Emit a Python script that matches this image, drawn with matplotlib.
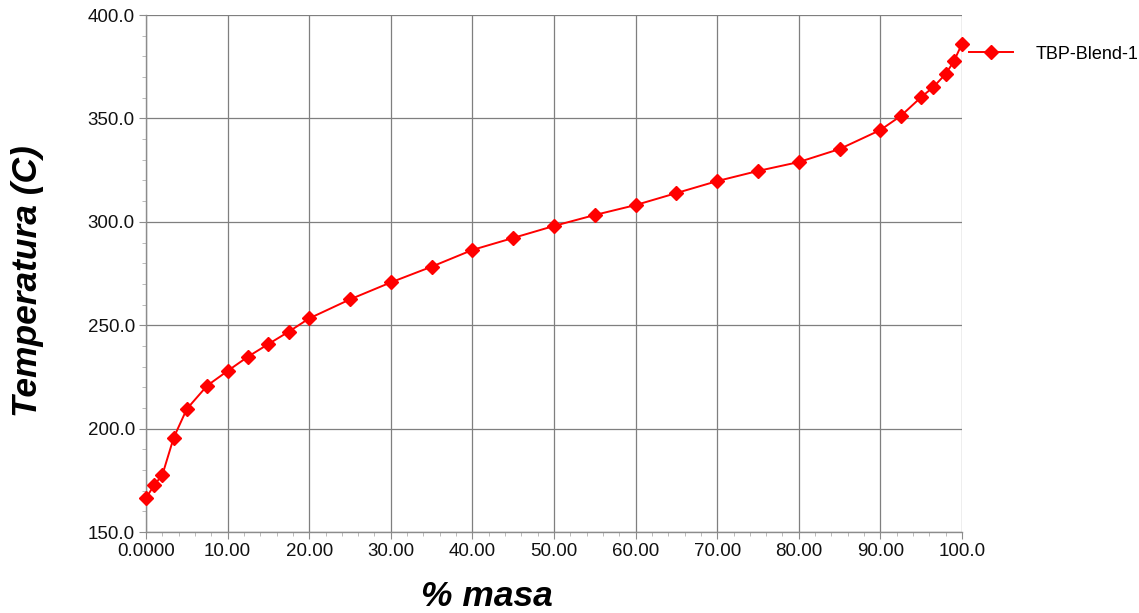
import numpy as np
from matplotlib import pyplot as plt
from matplotlib.ticker import MultipleLocator, FixedLocator

# % mass distilled vs temperature (TBP curve)
masa = [0.0, 1.0, 2.0, 3.4, 5.0, 7.5, 10.0, 12.5, 15.0, 17.5, 20.0, 25.0, 30.0,
        35.0, 40.0, 45.0, 50.0, 55.0, 60.0, 65.0, 70.0, 75.0, 80.0, 85.0, 90.0,
        92.5, 95.0, 96.5, 98.0, 99.0, 100.0]
temperatura = [166.4, 172.7, 177.6, 195.7, 209.5, 220.8, 227.9, 234.8, 240.9,
               246.9, 253.3, 262.5, 270.7, 278.3, 286.4, 292.2, 298.0, 303.3,
               308.1, 313.9, 319.7, 324.6, 328.9, 335.2, 344.4, 351.2, 360.3,
               365.2, 371.5, 377.6, 386.1]
serie = 'TBP-Blend-1'

x_ticks = [0, 10, 20, 30, 40, 50, 60, 70, 80, 90, 100]
x_labels = ['0.0000', '10.00', '20.00', '30.00', '40.00', '50.00', '60.00',
            '70.00', '80.00', '90.00', '100.0']
y_ticks = [150, 200, 250, 300, 350, 400]
y_labels = ['150.0', '200.0', '250.0', '300.0', '350.0', '400.0']

plt.rcParams['font.family'] = ['Liberation Sans', 'DejaVu Sans']

fig = plt.figure(figsize=(11.39, 6.13), dpi=100)
ax = fig.add_axes([0.1282, 0.1321, 0.7164, 0.8434])

ax.plot(masa, temperatura, color='#ff0000', lw=1.4, marker='D', markersize=7,
        label=serie, clip_on=False, zorder=5)

ax.set_xlim(0, 100)
ax.set_ylim(150, 400)
ax.xaxis.set_major_locator(FixedLocator(x_ticks))
ax.set_xticklabels(x_labels)
ax.yaxis.set_major_locator(FixedLocator(y_ticks))
ax.set_yticklabels(y_labels)
ax.xaxis.set_minor_locator(MultipleLocator(2))
ax.yaxis.set_minor_locator(MultipleLocator(10))

ax.grid(True, which='major', color='#7f7f7f', lw=0.9)
for side in ['top', 'right']:
    ax.spines[side].set_visible(False)
for side in ['left', 'bottom']:
    ax.spines[side].set_color('#8c8c8c')
    ax.spines[side].set_linewidth(1.0)

ax.tick_params(which='major', direction='out', length=5, color='#8c8c8c',
               labelsize=13.5, labelcolor='#111111', pad=3)
ax.tick_params(which='minor', direction='out', length=3, color='#b0b0b0')

ax.set_xlabel('% masa', fontsize=25.5, fontweight='bold', fontstyle='italic')
ax.xaxis.set_label_coords(0.418, -0.092)
ax.set_ylabel('Temperatura (C)', fontsize=25.5, fontweight='bold',
              fontstyle='italic')
ax.yaxis.set_label_coords(-0.125, 0.486)

ax.legend(loc='upper left', bbox_to_anchor=(1.0, 0.955), frameon=False,
          fontsize=13, handlelength=2.4, handletextpad=1.3, borderaxespad=0.0)

fig.savefig('out.png', dpi=100)
